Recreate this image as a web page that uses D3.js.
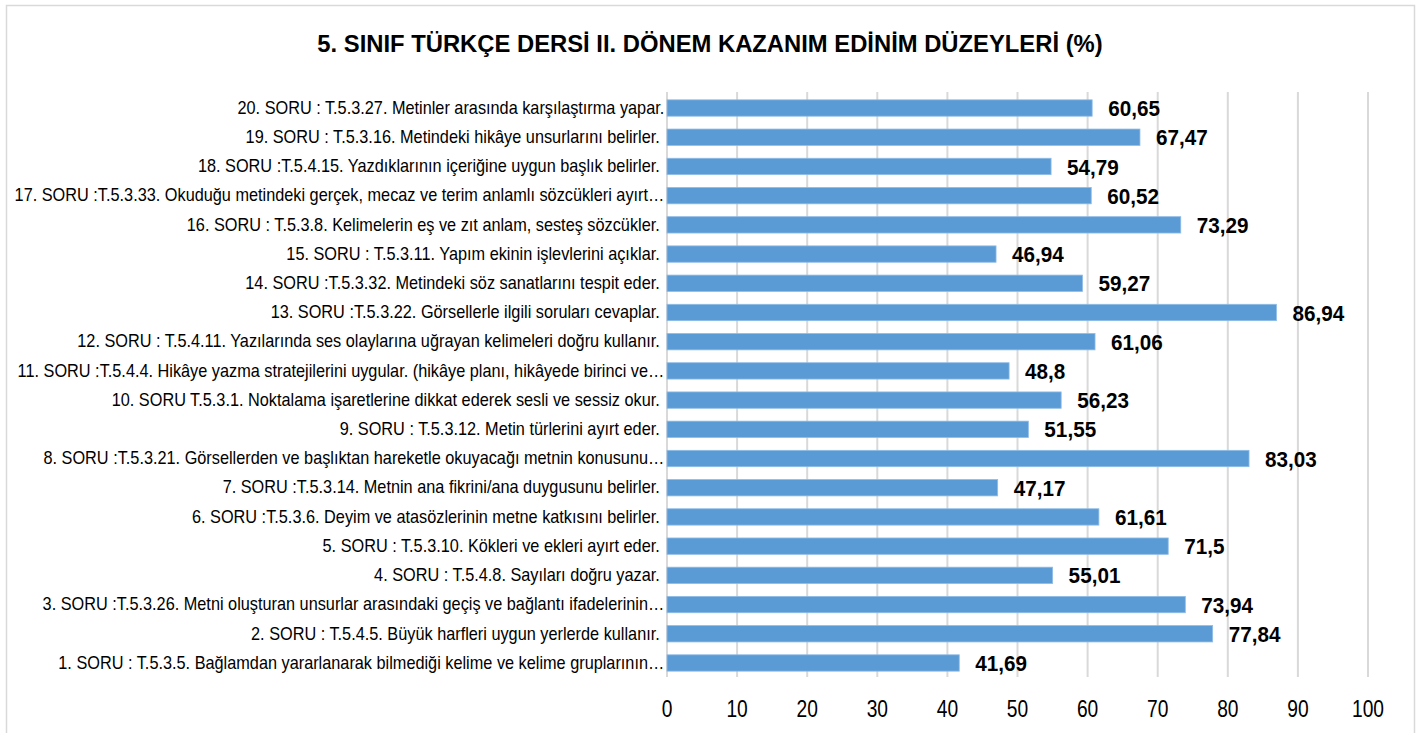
<!DOCTYPE html>
<html>
<head>
<meta charset="utf-8">
<script src="https://cdn.jsdelivr.net/npm/d3@7"></script>
<style>
  body { margin: 0; background: #fff; }
  svg text { font-family: "Liberation Sans", Arial, sans-serif; }
</style>
</head>
<body>
<div id="container"></div>
<script>
// questions, bottom (1) to top (20)
const questions = [
  "1. SORU : T.5.3.5. Bağlamdan yararlanarak bilmediği kelime ve kelime gruplarının…",
  "2. SORU : T.5.4.5. Büyük harfleri uygun yerlerde kullanır. ",
  "3. SORU :T.5.3.26. Metni oluşturan unsurlar arasındaki geçiş ve bağlantı ifadelerinin…",
  "4. SORU : T.5.4.8. Sayıları doğru yazar. ",
  "5. SORU : T.5.3.10. Kökleri ve ekleri ayırt eder. ",
  "6. SORU :T.5.3.6. Deyim ve atasözlerinin metne katkısını belirler. ",
  "7. SORU :T.5.3.14. Metnin ana fikrini/ana duygusunu belirler. ",
  "8. SORU :T.5.3.21. Görsellerden ve başlıktan hareketle okuyacağı metnin konusunu…",
  "9. SORU : T.5.3.12. Metin türlerini ayırt eder. ",
  "10. SORU T.5.3.1. Noktalama işaretlerine dikkat ederek sesli ve sessiz okur. ",
  "11. SORU :T.5.4.4. Hikâye yazma stratejilerini uygular. (hikâye planı, hikâyede birinci ve…",
  "12. SORU : T.5.4.11. Yazılarında ses olaylarına uğrayan kelimeleri doğru kullanır. ",
  "13. SORU :T.5.3.22. Görsellerle ilgili soruları cevaplar. ",
  "14. SORU :T.5.3.32. Metindeki söz sanatlarını tespit eder. ",
  "15. SORU : T.5.3.11. Yapım ekinin işlevlerini açıklar. ",
  "16. SORU : T.5.3.8. Kelimelerin eş ve zıt anlam, sesteş sözcükler. ",
  "17. SORU :T.5.3.33. Okuduğu metindeki gerçek, mecaz ve terim anlamlı sözcükleri ayırt…",
  "18. SORU :T.5.4.15. Yazdıklarının içeriğine uygun başlık belirler. ",
  "19. SORU : T.5.3.16. Metindeki hikâye unsurlarını belirler. ",
  "20. SORU : T.5.3.27. Metinler arasında karşılaştırma yapar."
];
const percents = [41.69, 77.84, 73.94, 55.01, 71.5, 61.61, 47.17, 83.03, 51.55, 56.23,
                  48.8, 61.06, 86.94, 59.27, 46.94, 73.29, 60.52, 54.79, 67.47, 60.65];
const xTicks = [0, 10, 20, 30, 40, 50, 60, 70, 80, 90, 100];
const title = "5. SINIF TÜRKÇE DERSİ II. DÖNEM KAZANIM EDİNİM DÜZEYLERİ (%)";

const width = 1424, height = 733;
const plotLeft = 667, plotRight = 1368, plotTop = 92, plotBottom = 677;

const data = questions.map((q, i) => ({q, v: percents[i]}));

const svg = d3.select('#container').append('svg')
  .attr('width', width).attr('height', height);

svg.append('rect')
  .attr('x', 6.5).attr('y', 5.5).attr('width', 1408).attr('height', 740)
  .attr('fill', '#fff').attr('stroke', '#d9d9d9').attr('stroke-width', 1.5);

svg.append('text')
  .attr('x', 710).attr('y', 52)
  .attr('text-anchor', 'middle')
  .attr('font-size', 23.8).attr('font-weight', 'bold').attr('fill', '#000')
  .text(title);

const x = d3.scaleLinear().domain([0, 100]).range([plotLeft, plotRight]);
const y = d3.scaleBand().domain(questions.slice().reverse())
  .range([94, plotBottom]).paddingInner(0.44).paddingOuter(0.2);

// grid
svg.append('g').selectAll('line').data(xTicks).enter().append('line')
  .attr('x1', d => x(d)).attr('x2', d => x(d))
  .attr('y1', plotTop).attr('y2', plotBottom)
  .attr('stroke', '#d9d9d9').attr('stroke-width', 2);

// bars
svg.append('g').selectAll('rect').data(data).enter().append('rect')
  .attr('x', x(0))
  .attr('y', d => y(d.q))
  .attr('width', d => x(d.v) - x(0))
  .attr('height', y.bandwidth())
  .attr('fill', '#5b9bd5')
  .attr('stroke', '#8fbce6').attr('stroke-width', 0.8);

// value labels (narrow look)
svg.append('g').selectAll('text').data(data).enter().append('text')
  .attr('transform', d => `translate(${x(d.v) + 16},${y(d.q) + y.bandwidth() / 2}) scale(0.92,1)`)
  .attr('dy', '0.358em')
  .attr('font-size', 22.5).attr('font-weight', 'bold').attr('fill', '#000')
  .text(d => String(d.v).replace('.', ','));

// category axis
const yAxis = svg.append('g')
  .attr('transform', `translate(${plotLeft}, 0)`)
  .call(d3.axisLeft(y).tickSize(0).tickPadding(3));
yAxis.select('.domain').remove();
yAxis.selectAll('text')
  .attr('font-size', 18).attr('fill', '#000')
  .attr('transform', 'scale(0.905,1)')
  .style('white-space', 'pre');

// value axis
const xAxis = svg.append('g')
  .attr('transform', `translate(0, ${plotBottom})`)
  .call(d3.axisBottom(x).tickValues(xTicks).tickSize(0).tickPadding(23));
xAxis.select('.domain').remove();
xAxis.selectAll('text')
  .attr('font-size', 24).attr('fill', '#000')
  .attr('transform', 'scale(0.8,1)');
xAxis.selectAll('.tick')
  .attr('transform', d => `translate(${x(d)},0)`);
</script>
</body>
</html>
